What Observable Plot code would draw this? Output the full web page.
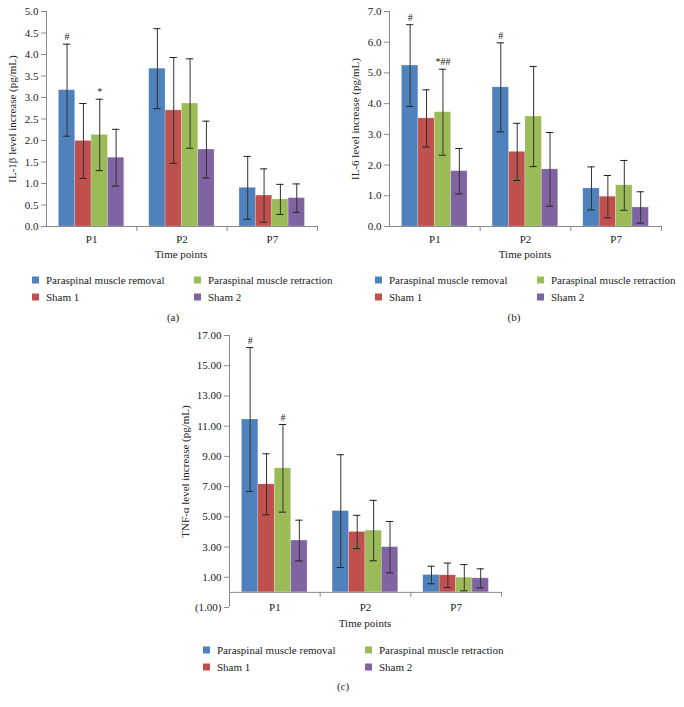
<!DOCTYPE html>
<html>
<head>
<meta charset="utf-8">
<script src="https://cdn.jsdelivr.net/npm/d3@7"></script>
<script src="https://cdn.jsdelivr.net/npm/@observablehq/plot@0.6"></script>
<style>
  body { margin: 0; background: #fff; font-family: "Liberation Serif", serif; color: #222; }
  #page { position: relative; width: 684px; height: 707px; overflow: hidden; }
  .abs { position: absolute; }
  .txt { position: absolute; font-size: 11px; line-height: 13px; white-space: nowrap; color: #222; transform: translate(-50%, -50%); }
  .leg { position: absolute; font-size: 11px; line-height: 13px; white-space: nowrap; color: #222; transform: translateY(-50%); }
  .sw { display: inline-block; width: 7px; height: 7px; vertical-align: middle; position: relative; top: -1px; }
  svg text { font-family: "Liberation Serif", serif; }
</style>
</head>
<body>
<div id="page"></div>
<script>
// ---------- data ----------
const times = ["P1", "P2", "P7"];
const groups = ["Paraspinal muscle removal", "Sham 1", "Paraspinal muscle retraction", "Sham 2"];
const colors = ["#4F81BD", "#C0504D", "#9BBB59", "#8064A2"];

// IL-1β (pg/mL): rows = time points, cols = groups
const il1bMean = [[3.17, 1.99, 2.13, 1.60], [3.67, 2.70, 2.86, 1.79], [0.90, 0.72, 0.63, 0.66]];
const il1bSd   = [[1.07, 0.87, 0.83, 0.66], [0.93, 1.23, 1.04, 0.66], [0.73, 0.62, 0.35, 0.33]];
const il1bNotes = [{time: "P1", group: "Paraspinal muscle removal", text: "#"},
                   {time: "P1", group: "Paraspinal muscle retraction", text: "*"}];
const il1bTicks = [0, 0.5, 1, 1.5, 2, 2.5, 3, 3.5, 4, 4.5, 5];

// IL-6 (pg/mL)
const il6Mean = [[5.24, 3.52, 3.72, 1.80], [4.53, 2.43, 3.58, 1.86], [1.24, 0.97, 1.34, 0.62]];
const il6Sd   = [[1.33, 0.93, 1.40, 0.74], [1.45, 0.93, 1.63, 1.20], [0.70, 0.69, 0.81, 0.51]];
const il6Notes = [{time: "P1", group: "Paraspinal muscle removal", text: "#"},
                  {time: "P1", group: "Paraspinal muscle retraction", text: "*##"},
                  {time: "P2", group: "Paraspinal muscle removal", text: "#"}];
const il6Ticks = [0, 1, 2, 3, 4, 5, 6, 7];

// TNF-α (pg/mL)
const tnfMean = [[11.44, 7.15, 8.21, 3.43], [5.38, 4.00, 4.09, 2.99], [1.15, 1.13, 0.97, 0.93]];
const tnfSd   = [[4.76, 2.02, 2.90, 1.35], [3.73, 1.10, 2.00, 1.70], [0.58, 0.81, 0.87, 0.63]];
const tnfNotes = [{time: "P1", group: "Paraspinal muscle removal", text: "#"},
                  {time: "P1", group: "Paraspinal muscle retraction", text: "#"}];
const tnfTicks = [-1, 1, 3, 5, 7, 9, 11, 13, 15, 17];

// ---------- drawing ----------
const page = document.getElementById("page");
const axisColor = "#8a8a8a";
const font = "Liberation Serif";

function panel(cfg) {
  const rows = [];
  times.forEach((t, ti) => groups.forEach((g, gi) =>
    rows.push({time: t, group: g, ti, gi, mean: cfg.mean[ti][gi], sd: cfg.sd[ti][gi]})));
  const off = 0.137, w = 0.181, cap = 0.04;
  const cx = d => d.ti + off + (d.gi + 0.5) * w;
  const notes = cfg.notes.map(n => {
    const r = rows.find(d => d.time === n.time && d.group === n.group);
    return {...r, text: n.text};
  });
  const [y0, y1] = cfg.yDomain;
  const plotH = cfg.height - cfg.mt - cfg.mb;
  const zeroShift = plotH * (0 - y0) / (y1 - y0); // distance from frame bottom to y=0
  const labelTicks = times.map((t, i) => i + 0.5);
  const dividers = times.map((t, i) => i + 1);
  const titleRow = [{label: cfg.label, x: 0, y: (y0 + y1) / 2}];

  const chart = Plot.plot({
    width: cfg.width, height: cfg.height,
    marginLeft: cfg.ml, marginRight: cfg.mr, marginTop: cfg.mt, marginBottom: cfg.mb,
    style: {fontFamily: font, fontSize: "11px", background: "transparent", color: "#222"},
    x: {domain: [0, times.length]},
    y: {domain: cfg.yDomain},
    color: {domain: groups, range: colors},
    marks: [
      Plot.rectY(rows, {x1: d => d.ti + off + d.gi * w, x2: d => d.ti + off + (d.gi + 1) * w,
                        y: "mean", fill: "group", stroke: "#ffffff", strokeOpacity: 0.35, strokeWidth: 0.6}),
      Plot.ruleX(rows, {x: cx, y1: d => d.mean - d.sd, y2: d => d.mean + d.sd, stroke: "#333", strokeWidth: 1}),
      Plot.ruleY(rows, {y: d => d.mean + d.sd, x1: d => cx(d) - cap, x2: d => cx(d) + cap, stroke: "#222", strokeWidth: 1}),
      Plot.ruleY(rows, {y: d => d.mean - d.sd, x1: d => cx(d) - cap, x2: d => cx(d) + cap, stroke: "#222", strokeWidth: 1}),
      Plot.text(notes, {x: cx, y: d => d.mean + d.sd, text: "text", dy: -7, fontSize: 10, fill: "#222"}),
      Plot.ruleY([0], {stroke: axisColor, strokeWidth: 1}),
      Plot.ruleX([0], {y1: y0, y2: y1, stroke: axisColor, strokeWidth: 1}),
      Plot.axisY({ticks: cfg.ticks, tickFormat: cfg.fmt, tickSize: 5, tickPadding: 3, stroke: axisColor, fill: "#222",
                  label: null, fontSize: 11}),
      Plot.text(titleRow, {x: "x", y: "y", text: "label", rotate: -90, dx: -cfg.labelOffset,
                           textAnchor: "middle", fontSize: 11, fill: "#222"}),
      Plot.axisX({ticks: dividers, tickFormat: () => "", tickSize: 5, stroke: axisColor, dy: -zeroShift, label: null}),
      Plot.axisX({ticks: labelTicks, tickFormat: v => times[Math.floor(v)], tickSize: 0,
                  tickPadding: cfg.labelPad, fill: "#222", fontSize: 11, label: null})
    ]
  });
  const holder = document.createElement("div");
  holder.className = "abs";
  holder.style.left = cfg.left + "px";
  holder.style.top = cfg.top + "px";
  holder.appendChild(chart);
  page.appendChild(holder);
}

function text(str, x, y, cls = "txt") {
  const el = document.createElement("div");
  el.className = cls;
  el.style.left = x + "px";
  el.style.top = y + "px";
  el.innerHTML = str;
  page.appendChild(el);
}

function legend(x1, x2, yRow1, yRow2) {
  const order = [[0, x1, yRow1], [2, x2, yRow1], [1, x1, yRow2], [3, x2, yRow2]];
  for (const [gi, x, y] of order) {
    text(`<span class="sw" style="background:${colors[gi]}"></span><span style="margin-left:7px">${groups[gi]}</span>`, x, y, "leg");
  }
}

const fmt1 = d3.format(".1f");
const fmtTnf = v => v < 0 ? `(${Math.abs(v).toFixed(2)})` : v.toFixed(2);

panel({left: 0, top: 0, width: 330, height: 250, ml: 46, mr: 13, mt: 11, mb: 24,
       mean: il1bMean, sd: il1bSd, notes: il1bNotes, ticks: il1bTicks, fmt: fmt1,
       yDomain: [0, 5], label: "IL-1β level increase (pg/mL)", labelOffset: 34, labelPad: 9});
panel({left: 340, top: 0, width: 340, height: 250, ml: 49, mr: 19, mt: 11, mb: 24,
       mean: il6Mean, sd: il6Sd, notes: il6Notes, ticks: il6Ticks, fmt: fmt1,
       yDomain: [0, 7], label: "IL-6 level increase (pg/mL)", labelOffset: 34, labelPad: 9});
panel({left: 180, top: 320, width: 340, height: 297, ml: 49, mr: 19, mt: 15, mb: 10,
       mean: tnfMean, sd: tnfSd, notes: tnfNotes, ticks: tnfTicks, fmt: fmtTnf,
       yDomain: [-1, 17], label: "TNF-α level increase (pg/mL)", labelOffset: 44, labelPad: -4});

text("Time points", 181, 254);
text("Time points", 525, 254);
text("Time points", 365, 623);
legend(32, 194, 280, 297);
legend(375, 537, 280, 297);
legend(203, 365, 650, 667);
text("(a)", 173, 317);
text("(b)", 514, 317);
text("(c)", 343, 686);
</script>
</body>
</html>
